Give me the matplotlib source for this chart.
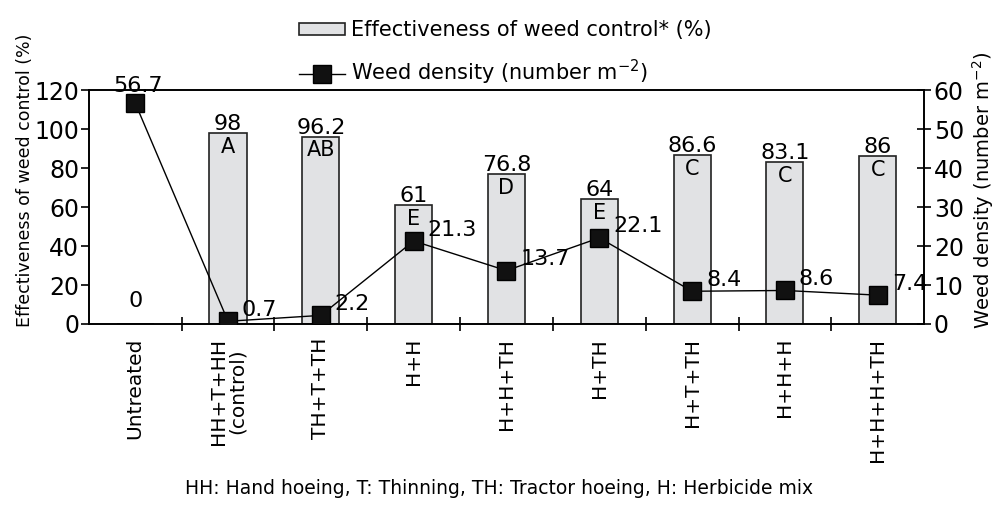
import numpy as np
import matplotlib.pyplot as plt
from matplotlib.lines import Line2D
from matplotlib.patches import Patch

treatments = ['Untreated', 'HH+T+HH\n(control)', 'TH+T+TH', 'H+H', 'H+H+TH',
              'H+TH', 'H+T+TH', 'H+H+H', 'H+H+H+TH']
effect = [0, 98, 96.2, 61, 76.8, 64, 86.6, 83.1, 86]
letters = ['', 'A', 'AB', 'E', 'D', 'E', 'C', 'C', 'C']
density = [56.7, 0.7, 2.2, 21.3, 13.7, 22.1, 8.4, 8.6, 7.4]

plt.rcParams['font.family'] = 'DejaVu Sans'
fig = plt.figure(figsize=(9.98, 5.07), dpi=100)
ax = fig.add_axes([0.089, 0.361, 0.837, 0.461])
x = np.arange(len(treatments))

ax.bar(x, effect, width=0.4, color='#e1e2e4', edgecolor='#222222', linewidth=1.2, zorder=2)
ax.set_xlim(-0.5, len(treatments) - 0.5)
ax.set_ylim(0, 120)
ax.set_yticks(range(0, 121, 20))
ax.set_ylabel('Effectiveness of weed control (%)', fontsize=12.5)
ax.yaxis.set_label_coords(-0.066, 0.615)

for xi, v, l in zip(x, effect, letters):
    if v == 0:
        ax.text(xi, 12, '0', ha='center', va='center', fontsize=16)
        continue
    ax.text(xi, v - 0.5, f'{v:g}', ha='center', va='bottom', fontsize=16)
    ax.text(xi, v - 2, l, ha='center', va='top', fontsize=15)

ax.set_xticks(x)
ax.set_xticklabels(treatments, rotation=90, fontsize=14.5, linespacing=0.95)
ax.set_xticks(np.arange(0.5, len(treatments) - 1, 1), minor=True)
ax.tick_params(axis='x', which='major', length=0, pad=10)
ax.tick_params(axis='x', which='minor', direction='inout', length=10, width=1.2)
ax.tick_params(axis='y', direction='out', length=6, width=1.2, labelsize=17, pad=1)
for s in ax.spines.values():
    s.set_linewidth(1.2)

ax2 = ax.twinx()
ax2.plot(x, density, color='black', linewidth=1, marker='s', markersize=12.5,
         markerfacecolor='#111111', markeredgecolor='black', zorder=3)
ax2.set_ylim(0, 60)
ax2.set_yticks(range(0, 61, 10))
ax2.tick_params(axis='y', direction='inout', length=10, width=1.2, labelsize=17, pad=2)
ax2.set_ylabel('Weed density (number m$^{-2}$)', fontsize=14)
ax2.yaxis.set_label_coords(1.055, 0.57)
for s in ax2.spines.values():
    s.set_linewidth(1.2)

for i, (xi, d) in enumerate(zip(x, density)):
    if i == 0:
        ax2.annotate(f'{d:g}', (xi, d), xytext=(2, 5), textcoords='offset points',
                     ha='center', va='bottom', fontsize=16)
    else:
        ax2.annotate(f'{d:g}', (xi, d), xytext=(10, 1), textcoords='offset points',
                     ha='left', va='bottom', fontsize=16)

handles = [Patch(facecolor='#e1e2e4', edgecolor='#222222', linewidth=1.2),
           Line2D([], [], color='black', linewidth=1, marker='s', markersize=12.5,
                  markerfacecolor='#111111')]
fig.legend(handles, ['Effectiveness of weed control* (%)', 'Weed density (number m$^{-2}$)'],
           loc='upper left', bbox_to_anchor=(0.281, 0.997), frameon=False, fontsize=15,
           labelspacing=0.85, handlelength=2.2, handleheight=0.5, handletextpad=0.3)

fig.text(0.5, 0.018, 'HH: Hand hoeing, T: Thinning, TH: Tractor hoeing, H: Herbicide mix',
         ha='center', va='bottom', fontsize=13.5)

fig.savefig('out.png', dpi=100)
